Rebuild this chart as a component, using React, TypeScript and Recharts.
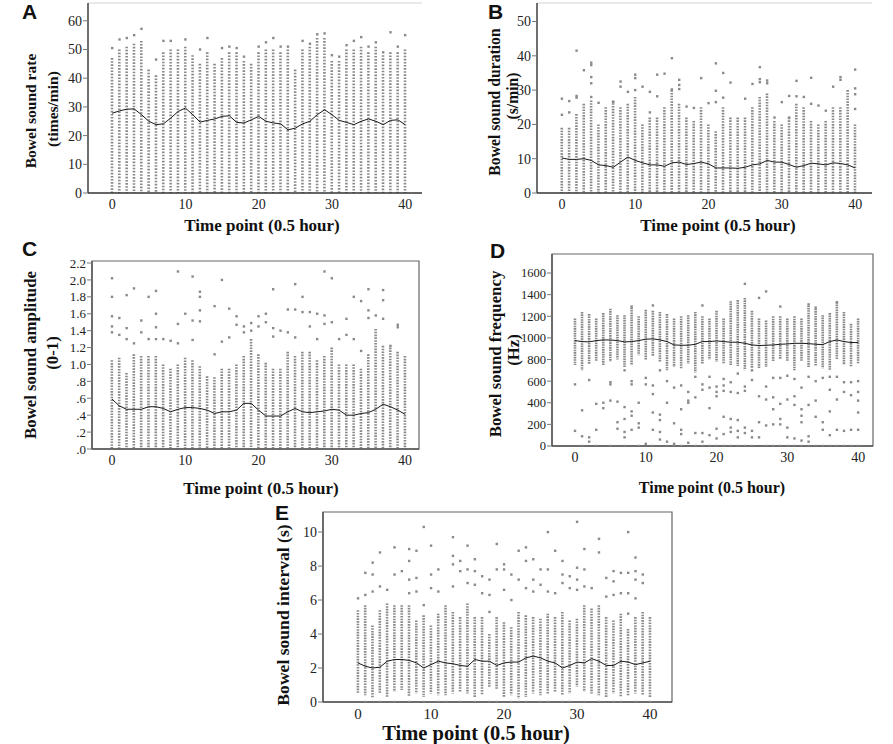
import React from 'react';
import { ComposedChart, Bar, Line, Scatter, XAxis, YAxis, Label, ReferenceArea, ReferenceLine } from 'recharts';

const TIME = [0,1,2,3,4,5,6,7,8,9,10,11,12,13,14,15,16,17,18,19,20,21,22,23,24,25,26,27,28,29,30,31,32,33,34,35,36,37,38,39,40];
const X_TICKS = [0, 10, 20, 30, 40];
const X_TITLE = 'Time point (0.5 hour)';

// ---------- A: Bowel sound rate ----------
const A_LO = [0,0,0,0,0,0,0,0,0,0,0,0,0,0,0,0,0,0,0,0,0,0,0,0,0,0,0,0,0,0,0,0,0,0,0,0,0,0,0,0,0];
const A_HI = [47,50,51,52,53,43,41,49,50,50,51,48,45,49,45,47,49,49,46,45,49,50,50,49,50,43,50,51,54,54,46,46,50,50,51,49,51,48,49,49,50];
const A_MEAN = [27.8,28.6,29.2,29.3,27.3,25.0,23.8,24.1,26.1,28.4,29.6,27.3,24.7,25.3,25.8,26.7,26.9,24.6,24.4,25.5,26.7,25.0,24.4,24.1,22.0,22.6,24.1,25.0,27.3,29.0,27.3,25.3,24.6,23.8,25.0,25.8,25.0,23.8,25.3,25.5,23.8];
const A_OUT: [number, number][] = [[0,50.5],[1,53.5],[2,54],[3,55],[4,57.2],[6,46.5],[7,53],[8,53],[10,53.5],[12,50],[13,54],[15,50.5],[16,51],[17,50.5],[18,47.5],[20,51],[21,52.5],[22,54],[23,51],[24,51],[26,53],[27,52],[28,55.3],[29,55.6],[30,48],[31,47.5],[32,51.5],[33,53],[34,54.3],[35,51],[36,52.5],[37,49],[38,56],[39,51],[40,55]];
const A_TICKS = [0,10,20,30,40,50,60];

// ---------- B: Bowel sound duration ----------
const B_LO = [0,0,0,0,0,0,0,0,0,0,0,0,0,0,0,0,0,0,0,0,0,0,0,0,0,0,0,0,0,0,0,0,0,0,0,0,0,0,0,0,0];
const B_HI = [19,19,23,26,27,20,25,27,25,26,28,20,22,22,25,30,26,22,21,25,20,18,25,22,22,22,25,28,29,21,20,22,26,25,21,20,21,25,25,30,20];
const B_MEAN = [10.2,9.8,9.8,10.0,9.5,8.2,8.0,7.5,9.0,10.5,9.5,8.8,8.2,8.2,7.8,8.8,9.0,8.3,8.6,9.0,8.5,7.3,7.3,7.3,7.2,7.5,8.2,8.5,9.5,9.0,9.0,8.3,7.5,8.0,8.7,8.5,8.2,8.8,8.6,8.2,7.3];
const B_OUT: [number, number][] = [[0,27.5],[0,22.8],[1,26.8],[1,23.5],[2,41.5],[2,28.3],[2,27.8],[3,35.8],[4,38],[4,37.3],[4,33.8],[4,32],[4,28],[5,26.3],[7,26.5],[8,32.5],[8,31],[9,29.5],[10,34.5],[10,33.5],[10,30],[11,31],[12,29.5],[12,23.5],[13,34.5],[13,28.2],[14,34.8],[15,39.3],[15,30.2],[16,33],[16,31.5],[16,30.3],[17,25.2],[18,24.8],[19,33.5],[20,26.2],[21,37.8],[21,29.8],[21,26.5],[22,35],[22,27.8],[23,32.2],[25,27.5],[26,31.8],[27,36.7],[27,33.2],[27,32.3],[28,32.8],[28,32],[29,22],[30,26.5],[31,28.3],[31,22],[32,32.7],[32,28.2],[33,28],[34,33.6],[34,26],[35,25.5],[36,24],[37,31],[38,33.8],[38,33],[40,36],[40,30.5],[40,28.8],[40,24.5]];
const B_TICKS = [0,10,20,30,40,50];

// ---------- C: Bowel sound amplitude ----------
const C_LO = [0,0,0,0,0,0,0,0,0,0,0,0,0,0,0,0,0,0,0,0,0,0,0,0,0,0,0,0,0,0,0,0,0,0,0,0,0,0,0,0,0];
const C_HI = [1.05,1.08,0.9,1.12,1.1,1.1,1.1,1.0,0.95,1.0,1.08,1.05,0.98,0.86,0.85,0.95,0.95,1.0,1.1,1.3,1.12,1.02,0.95,0.95,1.15,1.1,1.15,1.15,1.05,1.1,1.2,1.0,1.0,1.0,0.95,1.12,1.42,1.22,1.2,1.15,1.1];
const C_MEAN = [0.59,0.51,0.47,0.47,0.47,0.50,0.50,0.48,0.44,0.47,0.49,0.49,0.48,0.46,0.42,0.44,0.44,0.46,0.54,0.54,0.46,0.39,0.39,0.39,0.44,0.48,0.44,0.43,0.44,0.45,0.47,0.46,0.40,0.40,0.42,0.43,0.47,0.53,0.50,0.46,0.41];
const C_OUT: [number, number][] = [[0,2.02],[0,1.8],[0,1.57],[0,1.45],[0,1.38],[1,1.55],[1,1.35],[2,1.82],[2,1.43],[2,1.3],[3,1.9],[3,1.25],[4,1.52],[4,1.38],[5,1.8],[5,1.3],[6,1.87],[6,1.6],[6,1.44],[6,1.3],[7,1.3],[8,1.28],[9,2.1],[9,1.48],[9,1.25],[10,1.6],[11,2.04],[11,1.52],[11,1.29],[12,1.86],[12,1.8],[12,1.64],[12,1.51],[14,1.69],[14,1.12],[15,2.0],[15,1.27],[16,1.66],[16,1.32],[17,1.57],[17,1.47],[18,1.45],[18,1.38],[19,1.49],[19,1.4],[20,1.57],[20,1.45],[21,1.6],[21,1.5],[22,1.89],[22,1.43],[22,1.33],[23,1.4],[24,1.65],[24,1.38],[25,1.95],[25,1.65],[25,1.32],[26,1.8],[26,1.62],[27,1.62],[27,1.45],[28,1.6],[28,1.3],[29,2.1],[29,1.58],[29,1.48],[30,2.02],[30,1.5],[31,1.3],[32,1.54],[32,1.35],[33,1.8],[33,1.3],[34,1.75],[34,1.16],[35,1.89],[35,1.64],[35,1.55],[36,1.58],[37,1.88],[37,1.76],[37,1.54],[38,1.22],[39,1.47],[39,1.44]];
const C_TICKS = [0,0.2,0.4,0.6,0.8,1.0,1.2,1.4,1.6,1.8,2.0,2.2];

// ---------- D: Bowel sound frequency ----------
const D_LO = [750,700,760,780,750,780,800,730,750,840,800,830,780,700,730,720,760,680,760,800,780,760,750,740,700,720,720,730,780,800,780,700,780,730,740,720,700,800,750,730,760];
const D_HI = [1180,1240,1220,1180,1230,1270,1210,1210,1280,1200,1260,1250,1240,1220,1180,1200,1210,1240,1200,1180,1250,1180,1340,1350,1370,1250,1180,1160,1200,1200,1180,1200,1180,1300,1270,1210,1230,1330,1240,1130,1180];
const D_MEAN = [975,966,963,975,981,981,975,963,966,975,988,991,981,966,935,932,932,941,966,966,972,966,960,960,950,935,929,932,935,941,944,950,950,947,941,938,966,981,966,957,957];
const D_OUT: [number, number][] = [[0,570],[0,140],[1,330],[1,90],[2,610],[2,80],[2,40],[3,390],[3,150],[4,400],[4,350],[5,420],[5,590],[5,570],[6,410],[6,220],[6,160],[7,700],[7,360],[7,250],[7,130],[7,80],[8,600],[8,570],[8,320],[8,280],[8,150],[8,1290],[9,400],[9,210],[9,170],[10,630],[10,570],[10,20],[11,560],[11,480],[11,310],[11,150],[11,1300],[12,700],[12,290],[12,240],[12,130],[12,60],[13,600],[13,400],[13,40],[14,540],[14,210],[14,20],[15,560],[15,340],[15,150],[15,110],[16,500],[16,420],[16,400],[16,30],[17,640],[17,450],[17,120],[18,570],[18,520],[18,120],[18,40],[18,1300],[19,640],[19,540],[19,350],[19,100],[20,550],[20,500],[20,460],[20,160],[20,70],[21,620],[21,560],[21,510],[21,270],[21,110],[22,590],[22,500],[22,250],[22,170],[22,130],[23,670],[23,490],[23,240],[23,140],[23,80],[24,550],[24,510],[24,170],[24,120],[24,1500],[25,700],[25,610],[25,140],[25,80],[26,460],[26,220],[26,80],[26,1370],[27,550],[27,430],[27,190],[27,1430],[28,630],[28,450],[28,340],[28,200],[29,630],[29,390],[29,250],[29,200],[29,1290],[30,650],[30,430],[30,170],[30,80],[31,620],[31,460],[31,380],[31,70],[32,540],[32,340],[32,280],[32,220],[32,50],[33,640],[33,380],[33,90],[33,40],[33,1310],[34,600],[34,420],[34,270],[34,1280],[35,630],[35,220],[35,150],[36,640],[36,520],[36,320],[36,100],[37,640],[37,430],[37,150],[37,1330],[38,590],[38,500],[38,140],[39,590],[39,470],[39,150],[40,600],[40,500],[40,420],[40,310],[40,150],[1,0],[3,0],[5,0],[7,0],[9,0],[11,0],[13,0],[14,0],[15,0],[17,0],[18,0],[19,0],[20,0],[21,0],[22,0],[23,0],[24,0],[25,0],[27,0],[28,0],[29,0],[30,0],[31,0],[32,0],[33,0],[34,0],[35,0],[36,0],[37,0],[38,0],[39,0],[40,0]];
const D_TICKS = [0,200,400,600,800,1000,1200,1400,1600];

// ---------- E: Bowel sound interval ----------
const E_LO = [0.5,0.4,0.2,0.5,0.3,0.6,0.7,0.3,0.5,0.3,0.5,0.4,0.4,0.5,0.6,0.5,0.3,0.4,0.9,0.7,0.3,0.4,0.2,0.3,0.5,0.4,0.5,0.6,0.4,0.5,0.9,0.6,0.5,0.4,0.3,0.5,0.3,0.4,0.5,0.4,0.3];
const E_HI = [5.4,5.7,4.5,5.4,5.8,5.7,5.7,5.7,4.8,5.1,4.5,5.2,5.7,5.3,5.0,5.8,5.0,5.0,4.0,5.0,4.7,4.4,5.3,5.1,5.0,4.9,5.2,5.0,5.3,4.8,4.9,5.7,5.5,5.7,5.0,4.8,5.2,4.3,5.0,5.3,5.0];
const E_MEAN = [2.3,2.1,2.0,2.05,2.4,2.5,2.5,2.45,2.3,2.0,2.2,2.4,2.3,2.25,2.15,2.1,2.5,2.4,2.4,2.15,2.3,2.35,2.35,2.6,2.7,2.6,2.4,2.3,2.0,2.15,2.35,2.3,2.55,2.4,2.15,2.15,2.4,2.35,2.2,2.3,2.4];
const E_OUT: [number, number][] = [[0,6.1],[1,6.3],[1,7.6],[2,6.5],[2,7.5],[2,8.2],[3,6.8],[3,8.8],[4,6.6],[5,7.5],[5,9.1],[6,7.7],[7,6.4],[7,7.2],[7,8.3],[7,9.0],[8,6.5],[8,7.3],[8,8.9],[9,5.7],[9,10.3],[10,6.7],[10,7.5],[10,9.2],[11,6.5],[11,7.8],[13,6.8],[13,8.1],[13,8.6],[13,9.7],[14,7.7],[14,8.3],[15,7.0],[15,7.8],[15,9.2],[16,6.9],[16,7.7],[16,8.4],[17,6.4],[17,7.4],[18,5.3],[18,6.3],[18,7.2],[19,7.8],[19,9.3],[20,6.6],[20,7.8],[20,8.1],[21,6.0],[21,7.5],[22,7.2],[22,8.9],[23,6.7],[23,8.3],[23,9.1],[24,6.5],[24,7.2],[24,8.4],[25,6.9],[25,7.8],[26,6.5],[26,7.8],[26,10.0],[27,6.4],[27,8.9],[28,7.0],[28,7.5],[28,8.3],[29,6.7],[29,7.4],[30,6.6],[30,7.2],[30,7.9],[30,10.6],[31,6.8],[31,7.8],[31,9.0],[32,6.7],[33,8.8],[33,9.6],[34,6.2],[34,7.3],[35,6.3],[35,7.1],[35,7.7],[36,6.4],[36,7.6],[37,5.2],[37,6.4],[37,7.6],[37,10.0],[38,6.1],[38,7.2],[38,7.7],[38,8.5],[39,7.0],[39,7.5],[1,0],[3,0],[5,0],[7,0],[9,0],[11,0],[12,0],[14,0],[16,0],[18,0],[19,0],[21,0],[22,0],[23,0],[25,0],[26,0],[28,0],[29,0],[31,0],[33,0],[35,0],[36,0],[38,0],[40,0]];
const E_TICKS = [0,2,4,6,8,10];

const fmtAmp = (v: number) => (v < 1 ? v.toFixed(1).replace(/^0/, '') : v.toFixed(1));
const fmtInt = (v: number) => String(v);

const SERIF = '"Liberation Serif", "Times New Roman", serif';
const STRIP = '#8a8a8a';

type Cfg = {
  left: number; top: number; w: number; h: number;
  plot: { l: number; r: number; t: number; b: number };
  xDomain: [number, number]; yDomain: [number, number]; yTicks: number[];
  fmt: (v: number) => string;
  lo: number[]; hi: number[]; mean: number[]; out: [number, number][];
  box: boolean; tickSize: number; xTickSize: number;
  xTitle: { x: number; y: number; size: number };
  yTitle: { text: string; x: number; y: number }[]; ySize: number;
  dash: string;
};

const PANELS: Cfg[] = [
  {
    left: 0, top: 0, w: 445, h: 240, plot: { l: 88, r: 422, t: 3, b: 193 },
    xDomain: [-3.3, 42.3], yDomain: [0, 66.2], yTicks: A_TICKS, fmt: fmtInt,
    lo: A_LO, hi: A_HI, mean: A_MEAN, out: A_OUT, box: false, tickSize: 14, xTickSize: 14,
    xTitle: { x: 262, y: 225, size: 17 },
    yTitle: [{ text: 'Bowel sound rate', x: 30, y: 111 }, { text: '(times/min)', x: 52, y: 109 }], ySize: 15.5,
    dash: '1.6 1.5',
  },
  {
    left: 445, top: 0, w: 448, h: 240, plot: { l: 92, r: 427, t: 3, b: 193 },
    xDomain: [-3.4, 42.3], yDomain: [0, 55.4], yTicks: B_TICKS, fmt: fmtInt,
    lo: B_LO, hi: B_HI, mean: B_MEAN, out: B_OUT, box: false, tickSize: 14, xTickSize: 14,
    xTitle: { x: 273, y: 225, size: 17 },
    yTitle: [{ text: 'Bowel sound duration', x: 49, y: 102 }, { text: '(s/min)', x: 67, y: 96 }], ySize: 15.7,
    dash: '1.6 1.2',
  },
  {
    left: 0, top: 240, w: 445, h: 260, plot: { l: 92, r: 419, t: 21, b: 209 },
    xDomain: [-2.73, 41.9], yDomain: [0, 2.224], yTicks: C_TICKS, fmt: fmtAmp,
    lo: C_LO, hi: C_HI, mean: C_MEAN, out: C_OUT, box: true, tickSize: 13, xTickSize: 14,
    xTitle: { x: 261, y: 248, size: 17 },
    yTitle: [{ text: 'Bowel sound amplitude', x: 30, y: 115 }, { text: '(0-1)', x: 52, y: 113 }], ySize: 16.8,
    dash: '1.6 1.2',
  },
  {
    left: 445, top: 240, w: 448, h: 260, plot: { l: 107, r: 428, t: 14, b: 206 },
    xDomain: [-3.25, 42.1], yDomain: [0, 1776], yTicks: D_TICKS, fmt: fmtInt,
    lo: D_LO, hi: D_HI, mean: D_MEAN, out: D_OUT, box: true, tickSize: 12.5, xTickSize: 14,
    xTitle: { x: 267, y: 247, size: 16 },
    yTitle: [{ text: 'Bowel sound frequency', x: 50, y: 114 }, { text: '(Hz)', x: 68, y: 110 }], ySize: 16.8,
    dash: '1.6 0.8',
  },
  {
    left: 220, top: 495, w: 460, h: 249, plot: { l: 103, r: 452, t: 17, b: 207 },
    xDomain: [-4.8, 43.0], yDomain: [0, 11.18], yTicks: E_TICKS, fmt: fmtInt,
    lo: E_LO, hi: E_HI, mean: E_MEAN, out: E_OUT, box: true, tickSize: 14, xTickSize: 15,
    xTitle: { x: 256, y: 238, size: 20.5 },
    yTitle: [{ text: 'Bowel sound interval (s)', x: 63, y: 120 }], ySize: 17.6,
    dash: '1.6 1.1',
  },
];

const LETTERS = [
  { text: 'A', x: 22, y: 1 },
  { text: 'B', x: 488, y: 1 },
  { text: 'C', x: 22, y: 238 },
  { text: 'D', x: 490, y: 240 },
  { text: 'E', x: 275, y: 502 },
];

const makeStrip = (dash: string) => (props: any) => {
  const { x, y, width, height } = props;
  if (x == null || y == null) return <g />;
  const cx = x + width / 2;
  const y1 = Math.min(y, y + height);
  const y2 = Math.max(y, y + height);
  return <line x1={cx} x2={cx} y1={y1} y2={y2} stroke={STRIP} strokeWidth={2.6} strokeDasharray={dash} />;
};

const dotShape = (props: any) => {
  const { cx, cy } = props;
  if (cx == null || cy == null) return <g />;
  return <rect x={cx - 1.2} y={cy - 1.2} width={2.4} height={2.4} fill={STRIP} />;
};

function Panel({ cfg }: { cfg: Cfg }) {
  const rows = TIME.map((t, i) => ({ t, range: [cfg.lo[i], cfg.hi[i]], mean: cfg.mean[i] }));
  const pts = cfg.out.map(([t, v]) => ({ t, v }));
  const axisColor = cfg.box ? '#555' : '#333';
  return (
    <div style={{ position: 'absolute', left: cfg.left, top: cfg.top }}>
      <ComposedChart
        width={cfg.w}
        height={cfg.h}
        data={rows}
        margin={{ top: cfg.plot.t, right: cfg.w - cfg.plot.r, bottom: 0, left: 0 }}
      >
        <XAxis
          dataKey="t"
          type="number"
          domain={cfg.xDomain}
          ticks={X_TICKS}
          interval={0}
          allowDataOverflow
          height={cfg.h - cfg.plot.b}
          tickLine={false}
          tickSize={4}
          tickMargin={2}
          axisLine={{ stroke: axisColor, strokeWidth: 1.4 }}
          tick={{ fontFamily: SERIF, fontSize: cfg.xTickSize, fill: '#222' }}
        >
          <Label
            content={() => (
              <text
                x={cfg.xTitle.x}
                y={cfg.xTitle.y}
                textAnchor="middle"
                dominantBaseline="central"
                style={{ fontFamily: SERIF, fontWeight: 700, fontSize: cfg.xTitle.size, fill: '#111' }}
              >
                {X_TITLE}
              </text>
            )}
          />
        </XAxis>
        <YAxis
          type="number"
          domain={cfg.yDomain}
          ticks={cfg.yTicks}
          interval={0}
          allowDataOverflow
          width={cfg.plot.l}
          tickSize={5}
          tickMargin={1}
          tickFormatter={cfg.fmt}
          tickLine={{ stroke: '#777' }}
          axisLine={{ stroke: axisColor, strokeWidth: 1.4 }}
          tick={{ fontFamily: SERIF, fontSize: cfg.tickSize, fill: '#222' }}
        >
          <Label
            content={() => (
              <g>
                {cfg.yTitle.map((l) => (
                  <text
                    key={l.text}
                    x={l.x}
                    y={l.y}
                    transform={`rotate(-90 ${l.x} ${l.y})`}
                    textAnchor="middle"
                    dominantBaseline="central"
                    style={{ fontFamily: SERIF, fontWeight: 700, fontSize: cfg.ySize, fill: '#111' }}
                  >
                    {l.text}
                  </text>
                ))}
              </g>
            )}
          />
        </YAxis>
        {cfg.box ? (
          <ReferenceArea
            x1={cfg.xDomain[0]}
            x2={cfg.xDomain[1]}
            y1={cfg.yDomain[0]}
            y2={cfg.yDomain[1]}
            fill="none"
            stroke="#666"
            strokeWidth={1.2}
            ifOverflow="visible"
          />
        ) : (
          <ReferenceLine y={cfg.yDomain[1]} stroke="#d4d4d4" strokeWidth={1} ifOverflow="visible" />
        )}
        <Bar dataKey="range" barSize={3} shape={makeStrip(cfg.dash)} isAnimationActive={false} />
        <Scatter data={pts} dataKey="v" shape={dotShape} isAnimationActive={false} />
        <Line dataKey="mean" type="linear" stroke="#1a1a1a" strokeWidth={1} dot={false} activeDot={false} isAnimationActive={false} />
      </ComposedChart>
    </div>
  );
}

export default function App() {
  return (
    <div style={{ position: 'absolute', left: 0, top: 0, width: 893, height: 744, background: '#fff', overflow: 'hidden' }}>
      {PANELS.map((p, i) => (
        <Panel key={i} cfg={p} />
      ))}
      {LETTERS.map((l) => (
        <div
          key={l.text}
          style={{
            position: 'absolute',
            left: l.x,
            top: l.y,
            fontFamily: '"Liberation Sans", Arial, sans-serif',
            fontWeight: 700,
            fontSize: 21,
            lineHeight: '21px',
            color: '#111',
          }}
        >
          {l.text}
        </div>
      ))}
    </div>
  );
}
